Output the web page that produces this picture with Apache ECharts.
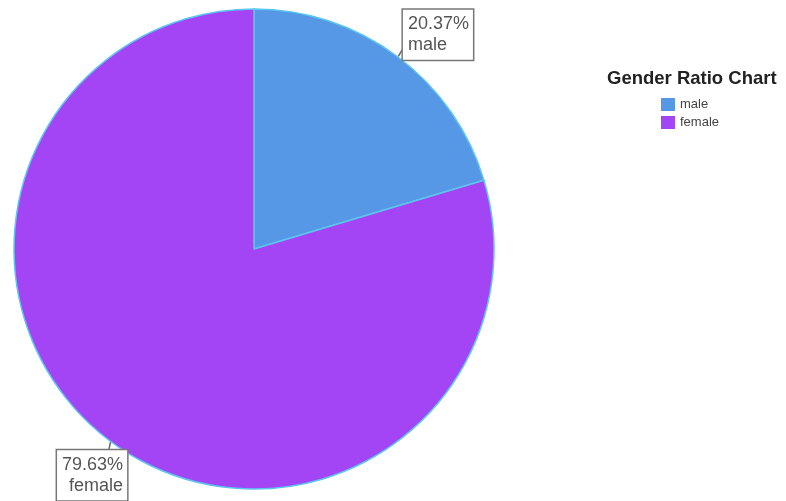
<!DOCTYPE html>
<html><head><meta charset="utf-8">
<script src="https://cdn.jsdelivr.net/npm/echarts@6/dist/echarts.min.js"></script>
<style>html,body{margin:0;padding:0;background:#fff}#c{width:786px;height:501px}</style>
</head><body><div id="c"></div>
<script>
const categories = ['male', 'female'];
const percents = [20.37, 79.63];
const colors = ['#5697e6', '#a445f5'];
const chartTitle = 'Gender Ratio Chart';

const chart = echarts.init(document.getElementById('c'), null, {renderer: 'canvas'});
chart.setOption({
  animation: false,
  title: {
    text: chartTitle, left: 602, top: 64,
    textStyle: {fontFamily: 'Liberation Sans, Arial', fontSize: 18.5, fontWeight: 'bold', color: '#222'}
  },
  legend: {
    orient: 'vertical', left: 656, top: 93, itemWidth: 14, itemHeight: 13, itemGap: 5,
    icon: 'rect', data: categories,
    itemStyle: {borderWidth: 0},
    textStyle: {fontFamily: 'Liberation Sans, Arial', fontSize: 13, color: '#444'}
  },
  series: [{
    type: 'pie', center: [254, 249], radius: 240, startAngle: 90, clockwise: true,
    itemStyle: {borderColor: '#5cc6ee', borderWidth: 1.5},
    label: {
      show: true, position: 'outside',
      formatter: p => p.value.toFixed(2) + '%\n' + p.name,
      fontFamily: 'Liberation Sans, Arial', fontSize: 18, lineHeight: 21, color: '#555',
      backgroundColor: '#fff', borderColor: '#777', borderWidth: 1.5, padding: [4, 4, 4, 5]
    },
    labelLine: {show: true, length: 6, length2: 0, lineStyle: {color: '#666', width: 1.5}},
    labelLayout: function (params) {
      const pts = params.labelLinePoints;
      const start = pts[0], end = pts[pts.length - 1];
      const h = params.labelRect.height;
      if (params.dataIndex === 0) {
        const y = end[1] - h + 11, x = end[0] + 2;
        return {x: x, y: y, align: 'left', verticalAlign: 'top',
          labelLinePoints: [[start[0] + 1, start[1]], [x, y + h - 14], [x, y + h - 14]]};
      }
      const y = end[1] + 4, x = end[0] + 20;
      return {x: x, y: y, align: 'right', verticalAlign: 'top',
        labelLinePoints: [start, [start[0] - 2, y], [start[0] - 2, y]]};
    },
    data: categories.map((c, i) => ({name: c, value: percents[i], itemStyle: {color: colors[i]},
      label: {align: i === 0 ? 'left' : 'right'}}))
  }]
});
</script></body></html>
